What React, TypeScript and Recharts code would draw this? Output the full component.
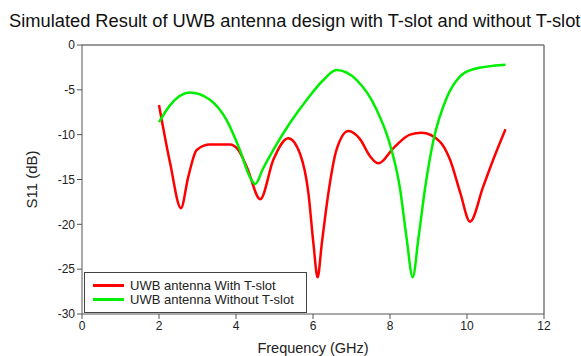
import { LineChart, Line, XAxis, YAxis, ReferenceLine, Label } from 'recharts'

const title = 'Simulated Result of UWB antenna design with T-slot and without T-slot'

const withSlotFreq = [2.0, 2.29, 2.57, 2.76, 2.98, 3.32, 3.84, 4.06, 4.28, 4.63, 4.97, 5.36, 5.66, 5.88, 6.01, 6.12, 6.23, 6.4, 6.61, 6.92, 7.22, 7.48, 7.7, 8.09, 8.52, 8.82, 9.3, 9.56, 9.82, 10.08, 10.42, 10.68, 11.0]
const withSlotS11 = [-6.7, -13.2, -18.2, -14.7, -11.7, -11.1, -11.1, -11.7, -13.6, -17.2, -12.8, -10.4, -12.1, -16.5, -22.1, -25.9, -22.1, -16.5, -11.7, -9.6, -10.5, -12.4, -13.2, -11.5, -10.0, -9.8, -10.8, -12.8, -16.4, -19.7, -15.8, -12.8, -9.4]

const withoutSlotFreq = [2.0, 2.29, 2.8, 3.32, 3.76, 4.1, 4.36, 4.5, 4.7, 4.97, 5.4, 5.84, 6.27, 6.61, 7.13, 7.65, 8.0, 8.26, 8.43, 8.59, 8.74, 8.91, 9.12, 9.47, 9.82, 10.16, 11.0]
const withoutSlotS11 = [-8.6, -6.7, -5.3, -6.1, -8.4, -11.7, -14.7, -15.5, -13.8, -11.7, -8.7, -6.1, -3.9, -2.8, -3.9, -7.2, -11.1, -16.0, -21.5, -25.9, -21.5, -16.0, -10.8, -5.9, -3.5, -2.7, -2.2]

const xTicks = [0, 2, 4, 6, 8, 10, 12]
const yTicks = [0, -5, -10, -15, -20, -25, -30]

const seriesNames = ['UWB antenna With T-slot', 'UWB antenna Without T-slot']
const seriesColors = ['#ff0000', '#00ee00']

const withSlot = withSlotFreq.map((f, i) => ({ f, s: withSlotS11[i] }))
const withoutSlot = withoutSlotFreq.map((f, i) => ({ f, s: withoutSlotS11[i] }))

const font = 'Arial, "Liberation Sans", sans-serif'

function LegendBox() {
  return (
    <div
      style={{
        position: 'absolute',
        left: 84,
        top: 272,
        width: 223,
        height: 41,
        border: '1px solid #444',
        background: '#fff',
        fontFamily: font,
        fontSize: 13,
        color: '#222',
        boxSizing: 'border-box',
        paddingTop: 5,
      }}
    >
      {seriesNames.map((name, i) => (
        <div key={name} style={{ display: 'flex', alignItems: 'center', height: 14 }}>
          <span style={{ display: 'inline-block', width: 31, height: 3, background: seriesColors[i], marginLeft: 8, marginRight: 6 }} />
          <span>{name}</span>
        </div>
      ))}
    </div>
  )
}

export default function App() {
  return (
    <div style={{ position: 'absolute', left: 0, top: 0, width: 581, height: 356, background: '#fff', overflow: 'hidden' }}>
      <div
        style={{
          position: 'absolute',
          left: 9,
          top: 10,
          fontFamily: font,
          fontSize: 18.3,
          color: '#111',
          whiteSpace: 'nowrap',
        }}
      >
        {title}
      </div>
      <LineChart width={581} height={356} margin={{ top: 45, right: 37, bottom: 12, left: 42 }}>
        <XAxis
          type="number"
          dataKey="f"
          domain={[0, 12]}
          ticks={xTicks}
          allowDataOverflow
          stroke="#555"
          tickSize={5}
          height={30}
          tick={{ fill: '#222', fontSize: 12, fontFamily: font }}
        >
          <Label value="Frequency (GHz)" position="bottom" offset={-1} style={{ fill: '#222', fontSize: 14.5, fontFamily: font }} />
        </XAxis>
        <YAxis
          type="number"
          domain={[-30, 0]}
          ticks={yTicks}
          allowDataOverflow
          stroke="#555"
          tickSize={5}
          width={40}
          tick={{ fill: '#222', fontSize: 12, fontFamily: font }}
        >
          <Label value="S11 (dB)" angle={-90} position="insideLeft" offset={-10} style={{ fill: '#222', fontSize: 15, fontFamily: font, textAnchor: 'middle' }} />
        </YAxis>
        <ReferenceLine y={0} stroke="#777" strokeWidth={1.5} />
        <ReferenceLine x={12} stroke="#777" strokeWidth={1.5} />
        <Line
          data={withSlot}
          dataKey="s"
          type="monotone"
          stroke={seriesColors[0]}
          strokeWidth={2.5}
          dot={false}
          isAnimationActive={false}
          name={seriesNames[0]}
        />
        <Line
          data={withoutSlot}
          dataKey="s"
          type="monotone"
          stroke={seriesColors[1]}
          strokeWidth={2.5}
          dot={false}
          isAnimationActive={false}
          name={seriesNames[1]}
        />
      </LineChart>
      <LegendBox />
    </div>
  )
}
